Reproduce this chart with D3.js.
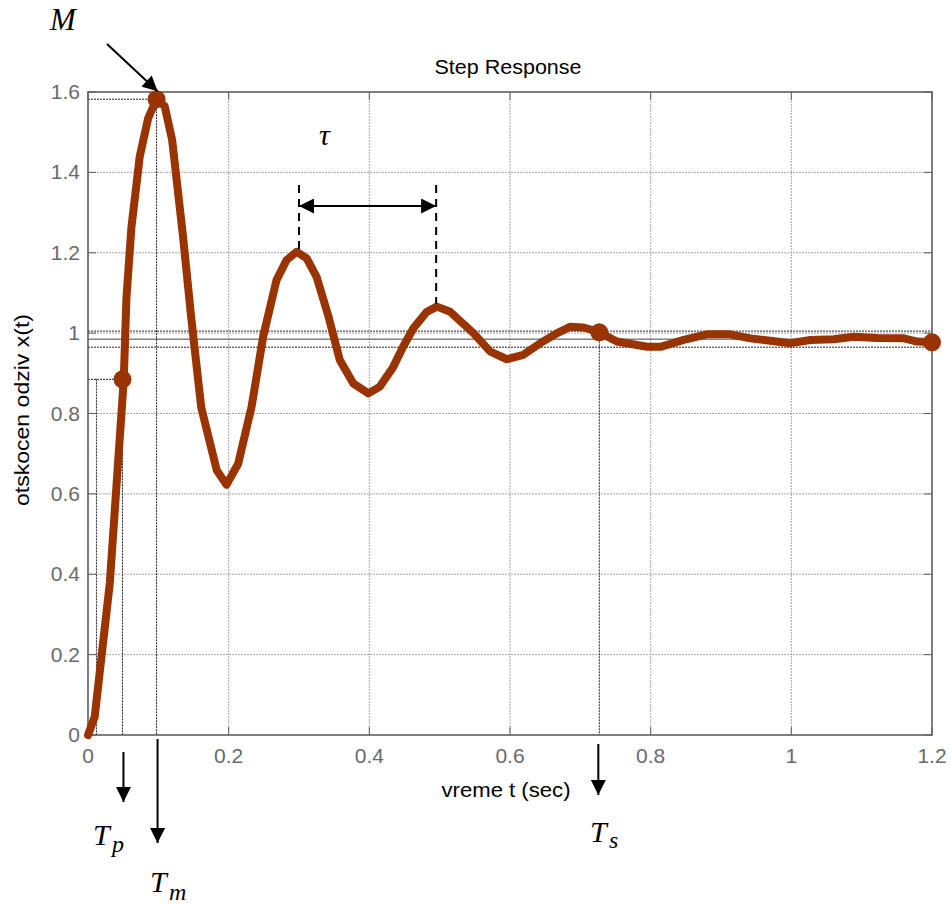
<!DOCTYPE html>
<html><head><meta charset="utf-8">
<script src="https://cdn.jsdelivr.net/npm/d3@7"></script>
<style>
html,body{margin:0;padding:0;background:#fff;}
svg{display:block;}
</style>
</head><body>
<svg id="chart" width="951" height="905"></svg>
<script>
// ---- data ----
const times = [0.000,0.0095,0.031,0.0508,0.0546,0.0617,0.0736,0.0854,0.0973,0.109,0.1196,0.135,0.147,0.161,0.183,0.197,0.2135,0.2326,0.249,0.268,0.2824,0.2966,0.311,0.325,0.342,0.358,0.377,0.3986,0.415,0.434,0.448,0.4626,0.4817,0.496,0.515,0.548,0.572,0.5956,0.619,0.643,0.667,0.686,0.7046,0.726,0.752,0.795,0.814,0.847,0.880,0.913,0.942,0.970,0.999,1.027,1.060,1.089,1.122,1.160,1.179,1.200];
const values = [0.000,0.045,0.378,0.883,1.086,1.263,1.440,1.534,1.582,1.565,1.481,1.242,1.034,0.815,0.659,0.623,0.675,0.817,0.991,1.132,1.182,1.2025,1.186,1.140,1.041,0.933,0.875,0.850,0.867,0.916,0.966,1.012,1.053,1.066,1.053,1.000,0.954,0.935,0.946,0.975,1.000,1.016,1.014,1.003,0.979,0.966,0.966,0.983,0.997,0.997,0.987,0.981,0.975,0.983,0.985,0.991,0.988,0.987,0.979,0.977];
const markerTimes = [0.049, 0.0975, 0.727, 1.2];
const markerValues = [0.885, 1.582, 1.002, 0.977];
const xTicks = [0, 0.2, 0.4, 0.6, 0.8, 1, 1.2];
const yTicks = [0, 0.2, 0.4, 0.6, 0.8, 1, 1.2, 1.4, 1.6];
const bandValues = [1.005, 0.985, 0.965];   // settling band (final ±2%)
const riseStartTime = 0.012;
const tauTimes = [0.3, 0.495];
const tauTops = [1.2, 1.066];

// ---- layout ----
const svg = d3.select('#chart');
const L = 88, R = 932, T = 92, B = 735;
const x = d3.scaleLinear().domain([0, 1.2]).range([L, R]);
const y = d3.scaleLinear().domain([0, 1.6]).range([B, T]);
const curveColor = '#993300';
const sans = '"Liberation Sans", Arial, sans-serif';
const serif = '"Liberation Serif", "Times New Roman", serif';

svg.append('rect').attr('width', 951).attr('height', 905).attr('fill', '#fff');

const defs = svg.append('defs');
defs.append('marker').attr('id', 'ah').attr('viewBox', '0 0 10 10')
  .attr('refX', 10).attr('refY', 5).attr('markerWidth', 16).attr('markerHeight', 15)
  .attr('markerUnits', 'userSpaceOnUse').attr('orient', 'auto-start-reverse')
  .append('path').attr('d', 'M0,0 L10,5 L0,10 Z').attr('fill', '#000');

// grid
const g = svg.append('g');
g.selectAll('.vg').data(xTicks.slice(1, -1)).enter().append('line')
  .attr('x1', d => x(d)).attr('x2', d => x(d)).attr('y1', T).attr('y2', B)
  .attr('stroke', '#a8a8a8').attr('stroke-width', 1).attr('stroke-dasharray', '2,1');
g.selectAll('.hg').data(yTicks.slice(1, -1)).enter().append('line')
  .attr('y1', d => y(d)).attr('y2', d => y(d)).attr('x1', L).attr('x2', R)
  .attr('stroke', '#a8a8a8').attr('stroke-width', 1).attr('stroke-dasharray', '2,1');

// settling band lines
bandValues.forEach((v, i) => {
  g.append('line').attr('x1', L).attr('x2', R).attr('y1', y(v)).attr('y2', y(v))
    .attr('stroke', i === 1 ? '#444' : '#222').attr('stroke-width', 1)
    .attr('stroke-dasharray', i === 1 ? null : '2,1');
});

// characteristic lines
const dl = (x1, y1, x2, y2) => g.append('line').attr('x1', x1).attr('y1', y1).attr('x2', x2).attr('y2', y2)
  .attr('stroke', '#222').attr('stroke-width', 1).attr('stroke-dasharray', '2,1');
dl(L, y(markerValues[0]), x(markerTimes[0]), y(markerValues[0]));
dl(x(markerTimes[0]), y(markerValues[0]), x(markerTimes[0]), B);
dl(x(riseStartTime), y(markerValues[0]), x(riseStartTime), B);
dl(L, y(markerValues[1]), x(markerTimes[1]), y(markerValues[1]));
dl(x(markerTimes[1]), y(markerValues[1]), x(markerTimes[1]), B);
dl(x(markerTimes[2]), y(markerValues[2]), x(markerTimes[2]), B);

// axes frame with inward ticks
const axG = svg.append('g');
const frameColor = '#5e5e5e';
axG.append('rect').attr('x', L).attr('y', T).attr('width', R - L).attr('height', B - T)
  .attr('fill', 'none').attr('stroke', frameColor).attr('stroke-width', 1.6);
xTicks.forEach(d => {
  axG.append('line').attr('x1', x(d)).attr('x2', x(d)).attr('y1', B).attr('y2', B - 8).attr('stroke', frameColor);
  axG.append('line').attr('x1', x(d)).attr('x2', x(d)).attr('y1', T).attr('y2', T + 8).attr('stroke', frameColor);
});
yTicks.forEach(d => {
  axG.append('line').attr('x1', L).attr('x2', L + 8).attr('y1', y(d)).attr('y2', y(d)).attr('stroke', frameColor);
  axG.append('line').attr('x1', R).attr('x2', R - 8).attr('y1', y(d)).attr('y2', y(d)).attr('stroke', frameColor);
});
axG.selectAll('.xt').data(xTicks).enter().append('text')
  .attr('x', d => x(d)).attr('y', 763).attr('text-anchor', 'middle')
  .attr('font-family', sans).attr('font-size', 21).attr('fill', '#6a6a6a')
  .text(d => d3.format('')(d));
axG.selectAll('.yt').data(yTicks).enter().append('text')
  .attr('x', 80).attr('y', d => y(d) + 7).attr('text-anchor', 'end')
  .attr('font-family', sans).attr('font-size', 21).attr('fill', '#6a6a6a')
  .text(d => d3.format('')(d));

// curve
const line = d3.line().x(d => x(d[0])).y(d => y(d[1]));
svg.append('path').datum(times.map((t, i) => [t, values[i]]))
  .attr('d', line).attr('fill', 'none').attr('stroke', curveColor)
  .attr('stroke-width', 8).attr('stroke-linejoin', 'round').attr('stroke-linecap', 'round');
svg.selectAll('.mk').data(markerTimes.map((t, i) => [t, markerValues[i]])).enter().append('circle')
  .attr('cx', d => x(d[0])).attr('cy', d => y(d[1])).attr('r', 9).attr('fill', curveColor);

// titles
svg.append('text').attr('x', 508).attr('y', 74).attr('text-anchor', 'middle')
  .attr('font-family', sans).attr('font-size', 20).attr('fill', '#000')
  .attr('textLength', 147).attr('lengthAdjust', 'spacingAndGlyphs').text('Step Response');
svg.append('text').attr('x', 506).attr('y', 797).attr('text-anchor', 'middle')
  .attr('font-family', sans).attr('font-size', 20).attr('fill', '#000')
  .attr('textLength', 129).attr('lengthAdjust', 'spacingAndGlyphs').text('vreme t (sec)');
svg.append('text').attr('transform', 'translate(29,410) rotate(-90)').attr('text-anchor', 'middle')
  .attr('font-family', sans).attr('font-size', 20).attr('fill', '#000')
  .attr('textLength', 192).attr('lengthAdjust', 'spacingAndGlyphs').text('otskocen odziv x(t)');

// annotations
const ann = svg.append('g');
const arrow = (x1, y1, x2, y2) => ann.append('line').attr('x1', x1).attr('y1', y1).attr('x2', x2).attr('y2', y2)
  .attr('stroke', '#000').attr('stroke-width', 2).attr('marker-end', 'url(#ah)');
arrow(107, 44, x(markerTimes[1]) + 1, y(markerValues[1]) - 8);
arrow(x(markerTimes[0]) + 1, 752, x(markerTimes[0]) + 1, 802);
arrow(x(markerTimes[1]) + 1, 739, x(markerTimes[1]) + 1, 843);
arrow(x(markerTimes[2]) - 1, 744, x(markerTimes[2]) - 1, 795);

tauTimes.forEach((t, i) => {
  ann.append('line').attr('x1', x(t)).attr('x2', x(t)).attr('y1', 185).attr('y2', y(tauTops[i]) - 3)
    .attr('stroke', '#000').attr('stroke-width', 2).attr('stroke-dasharray', '8,6');
});
ann.append('line').attr('x1', x(tauTimes[0])).attr('x2', x(tauTimes[1])).attr('y1', 206).attr('y2', 206)
  .attr('stroke', '#000').attr('stroke-width', 2)
  .attr('marker-start', 'url(#ah)').attr('marker-end', 'url(#ah)');

const it = (tx, ty, main, size) => ann.append('text').attr('x', tx).attr('y', ty).attr('font-family', serif)
  .attr('font-style', 'italic').attr('font-size', size).attr('fill', '#000').text(main);
it(50, 30, 'M', 31);
it(319, 145, 'τ', 30);
it(93, 845, 'T', 30); it(112, 852, 'p', 24);
it(150, 892, 'T', 30); it(169, 900, 'm', 24);
it(590, 842, 'T', 30); it(609, 848, 's', 24);
</script>
</body></html>
